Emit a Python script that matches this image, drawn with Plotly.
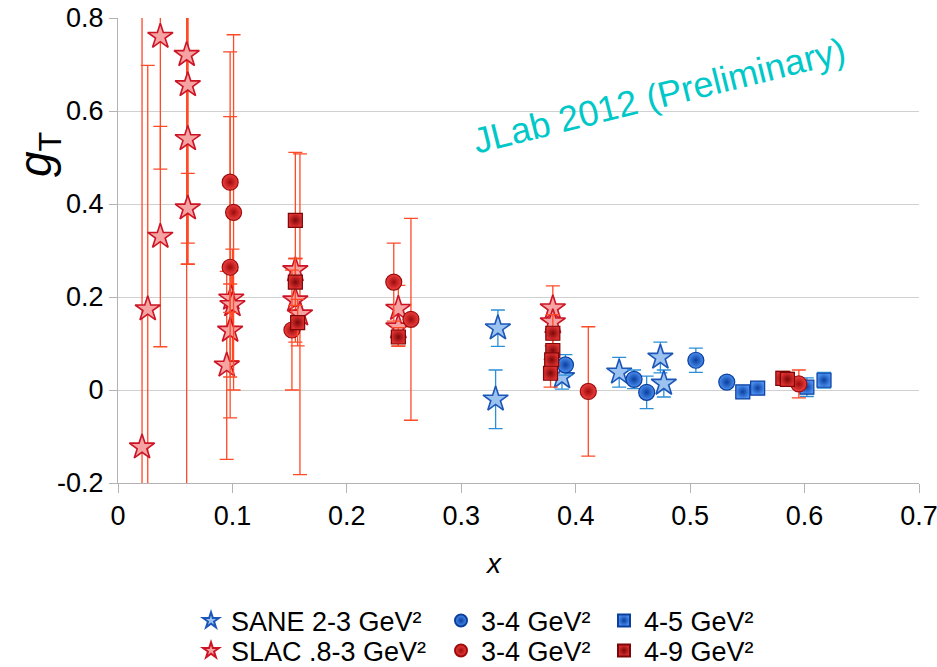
import plotly.graph_objects as go

# ---------------- data ----------------
slac_x = [0.021, 0.026, 0.037, 0.037, 0.060, 0.061, 0.061, 0.061, 0.095, 0.098, 0.099, 0.100,
          0.155, 0.155, 0.159, 0.245, 0.245, 0.380, 0.380]
slac_y = [-0.123, 0.174, 0.760, 0.330, 0.721, 0.656, 0.540, 0.391, 0.053, 0.128, 0.197, 0.183,
          0.258, 0.193, 0.163, 0.175, 0.135, 0.176, 0.146]
slac_e = [1.0, 0.524, 0.285, 0.237, 1.0, 0.385, 0.27, 0.075, 0.202, 0.10, 0.06, 0.12,
          0.025, 0.09, 0.345, 0.05, 0.04, 0.048, 0.03]

red34_x = [0.098, 0.101, 0.098, 0.152, 0.241, 0.256, 0.411, 0.595]
red34_y = [0.447, 0.382, 0.264, 0.129, 0.232, 0.152, -0.003, 0.013]
red34_e = [0.28, 0.382, 0.324, 0.129, 0.084, 0.217, 0.139, 0.03]

red49_x = [0.155, 0.155, 0.157, 0.245, 0.380, 0.380, 0.379, 0.378, 0.581, 0.585]
red49_y = [0.365, 0.232, 0.145, 0.114, 0.122, 0.085, 0.065, 0.036, 0.025, 0.023]
red49_e = [0.146, 0.05, 0.05, 0.02, 0.04, 0.03, 0.03, 0.03, 0.015, 0.015]

sane_x = [0.332, 0.330, 0.388, 0.438, 0.474, 0.477]
sane_y = [0.133, -0.020, 0.028, 0.038, 0.070, 0.014]
sane_e = [0.039, 0.063, 0.026, 0.032, 0.033, 0.029]

blue34_x = [0.391, 0.451, 0.462, 0.505, 0.532]
blue34_y = [0.054, 0.023, -0.005, 0.064, 0.017]
blue34_e = [0.022, 0.02, 0.035, 0.026, 0.01]

blue45_x = [0.546, 0.559, 0.602, 0.617]
blue45_y = [-0.004, 0.004, 0.006, 0.021]
blue45_e = [0.01, 0.008, 0.02, 0.017]

x_ticks = [0, 0.1, 0.2, 0.3, 0.4, 0.5, 0.6, 0.7]
x_ticklabels = ["0", "0.1", "0.2", "0.3", "0.4", "0.5", "0.6", "0.7"]
y_ticks = [-0.2, 0, 0.2, 0.4, 0.6, 0.8]
y_ticklabels = ["-0.2", "0", "0.2", "0.4", "0.6", "0.8"]

FONT = "Liberation Sans, Arial, sans-serif"
RED_ERR = "#ff4a26"
BLUE_ERR = "#2b8fd8"

# plot area in pixels (for placing legends / labels in paper coords)
L, R, T, B = 118, 18, 18, 184
PW, PH = 937 - L - R, 667 - T - B


def px(xp):
    return (xp - L) / PW


def py(yp):
    return (667 - B - yp) / PH


fig = go.Figure()


def add(name, xs, ys, es, symbol, size, fill, edge, errc, legend, grad=True, lw=1.2):
    marker = dict(symbol=symbol, size=size, color=fill, line=dict(color=edge, width=lw))
    if grad:
        marker["gradient"] = dict(type="radial", color=edge)
    fig.add_trace(go.Scatter(
        x=xs, y=ys, mode="markers", name=name, legend=legend,
        marker=marker,
        error_y=dict(type="data", array=es, visible=True, color=errc,
                     thickness=1.3, width=7),
    ))


add("SANE 2-3 GeV²", sane_x, sane_y, sane_e, "star", 19, "#9cc3f0", "#1c56b8", BLUE_ERR, "legend", grad=False, lw=1.6)
add("3-4 GeV²", blue34_x, blue34_y, blue34_e, "circle", 16, "#4a8ff0", "#0b3f9e", BLUE_ERR, "legend2")
add("4-5 GeV²", blue45_x, blue45_y, blue45_e, "square", 14, "#4a8ff0", "#0b3f9e", BLUE_ERR, "legend3")
add("SLAC .8-3 GeV²", slac_x, slac_y, slac_e, "star", 19, "#f5a3a3", "#cc1424", RED_ERR, "legend4", grad=False, lw=1.6)
add("3-4 GeV² ", red34_x, red34_y, red34_e, "circle", 16, "#f04040", "#9e0b0b", RED_ERR, "legend5")
add("4-9 GeV²", red49_x, red49_y, red49_e, "square", 14, "#e03030", "#7a0808", RED_ERR, "legend6")

leg_common = dict(orientation="v", yanchor="middle", xanchor="left",
                  font=dict(family=FONT, size=27, color="black"),
                  bgcolor="rgba(0,0,0,0)", itemsizing="constant")

col_x = [px(191), px(441), px(604)]
row_y = [py(621), py(651)]

fig.update_layout(
    width=937, height=667,
    margin=dict(l=L, r=R, t=T, b=B, autoexpand=False),
    paper_bgcolor="white", plot_bgcolor="white",
    font=dict(family=FONT, size=27, color="black"),
    showlegend=True,
    legend=dict(x=col_x[0], y=row_y[0], **leg_common),
    legend2=dict(x=col_x[1], y=row_y[0], **leg_common),
    legend3=dict(x=col_x[2], y=row_y[0], **leg_common),
    legend4=dict(x=col_x[0], y=row_y[1], **leg_common),
    legend5=dict(x=col_x[1], y=row_y[1], **leg_common),
    legend6=dict(x=col_x[2], y=row_y[1], **leg_common),
    xaxis=dict(range=[0, 0.7], tickvals=x_ticks, ticktext=x_ticklabels,
               showgrid=False, zeroline=False, showline=True, linecolor="#b3b3b3",
               linewidth=1, ticks="outside", ticklen=9, tickcolor="#b3b3b3",
               ticklabeloverflow="allow",
               tickfont=dict(family=FONT, size=27)),
    yaxis=dict(range=[-0.2, 0.8], tickvals=y_ticks, ticktext=y_ticklabels,
               showgrid=True, gridcolor="#d0d0d0", gridwidth=1, zeroline=False,
               showline=True, linecolor="#b3b3b3", linewidth=1,
               ticks="outside", ticklen=8, tickcolor="#b3b3b3",
               ticklabeloverflow="allow",
               tickfont=dict(family=FONT, size=27)),
    annotations=[
        dict(text="<i>g</i><sub>T</sub>", xref="paper", yref="paper",
             x=px(38), y=py(155), xanchor="center", yanchor="middle",
             showarrow=False, textangle=-90,
             font=dict(family=FONT, size=46, color="black")),
        dict(text="<i>x</i>", xref="paper", yref="paper",
             x=px(493), y=py(563), xanchor="center", yanchor="middle",
             showarrow=False,
             font=dict(family=FONT, size=28, color="black")),
        dict(text="JLab 2012 (Preliminary)", xref="paper", yref="paper",
             x=px(659), y=py(95), xanchor="center", yanchor="middle",
             showarrow=False, textangle=-14,
             font=dict(family=FONT, size=36, color="#00c8c8")),
    ],
)

fig.write_html("out.html")
